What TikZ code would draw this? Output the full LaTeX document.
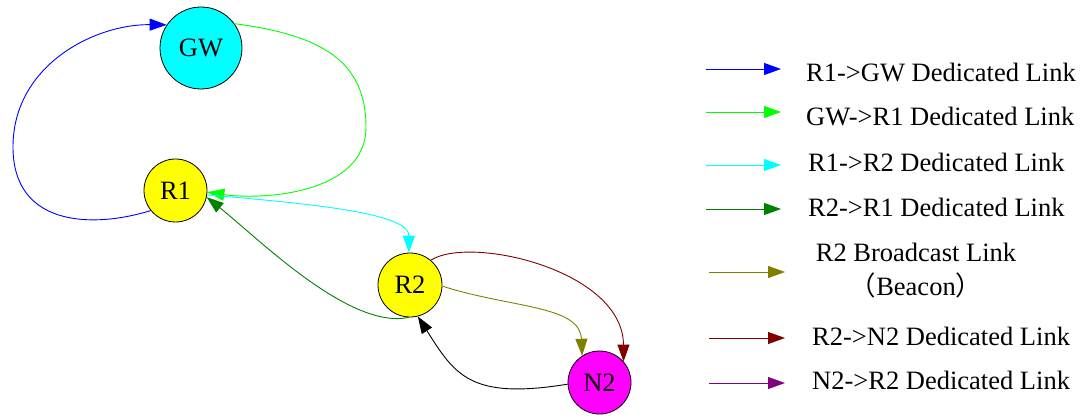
\documentclass[tikz,border=0pt]{standalone}
\usepackage{fontspec}
\setmainfont{Liberation Serif}
\newfontfamily\cjk{Noto Sans CJK SC}
\usetikzlibrary{arrows.meta}
\definecolor{bluec}{RGB}{0,0,255}
\definecolor{greenc}{RGB}{0,255,0}
\definecolor{cyanc}{RGB}{0,255,255}
\definecolor{yellowc}{RGB}{255,255,0}
\definecolor{magentac}{RGB}{255,0,255}
\definecolor{dkgreen}{RGB}{0,128,0}
\definecolor{olivec}{RGB}{128,128,0}
\definecolor{maroonc}{RGB}{128,0,0}
\definecolor{purplec}{RGB}{128,0,128}
\begin{document}
\begin{tikzpicture}[x=1pt,y=-1pt,
  every node/.style={font=\fontsize{26.5}{30}\selectfont},
  station/.style={circle,draw=black,line width=0.8pt,inner sep=0pt},
  link/.style={line width=0.9pt,-{Triangle[length=17pt,width=12pt]}},
  legtext/.style={anchor=base west,inner sep=0pt},
  legctext/.style={anchor=base,inner sep=0pt}]
\useasboundingbox (0,0) rectangle (1084,417);
% stations
\node[station,fill=cyanc,minimum size=82pt] (GW) at (201,48) {GW};
\node[station,fill=yellowc,minimum size=63pt] (R1) at (175.5,190.5) {R1};
\node[station,fill=yellowc,minimum size=64pt] (R2) at (410,285) {R2};
\node[station,fill=magentac,minimum size=63pt] (N2) at (599.5,382.5) {N2};
% links
\coordinate (bl) at (13,147);
\draw[link,bluec] (R1.219) .. controls (95,228) and (13,228) .. (bl)
   .. controls (13,65) and (95,24) .. (GW.146);
\coordinate (gr) at (366,127);
\draw[link,greenc] (GW.36) .. controls (320,35) and (366,60) .. (gr)
   .. controls (366,195) and (260,200) .. (R1.-3);
\draw[link,cyanc] (R1.-8) .. controls (330,205) and (409,215) .. (R2.92);
\draw[link,dkgreen] (R2.268) .. controls (350,330) and (260,240) .. (R1.-12);
\draw[link,olivec] (R2.-2) .. controls (510,308) and (580,305) .. (N2.123);
\draw[link,maroonc] (R2.50) .. controls (470,235) and (623,270) .. (N2.41);
\draw[link,black] (N2.183) .. controls (470,400) and (455,375) .. (R2.-76);
% legend
\coordinate (l1a) at (706,69);  \coordinate (l1b) at (781,69);
\coordinate (l2a) at (706,112); \coordinate (l2b) at (781,112);
\coordinate (l3a) at (706,165); \coordinate (l3b) at (781,165);
\coordinate (l4a) at (706,209); \coordinate (l4b) at (781,209);
\coordinate (l5a) at (709,272); \coordinate (l5b) at (785,272);
\coordinate (l6a) at (709,338); \coordinate (l6b) at (785,338);
\coordinate (l7a) at (709,383); \coordinate (l7b) at (785,383);
\draw[link,bluec] (l1a) -- (l1b);
\draw[link,greenc] (l2a) -- (l2b);
\draw[link,cyanc] (l3a) -- (l3b);
\draw[link,dkgreen] (l4a) -- (l4b);
\draw[link,olivec] (l5a) -- (l5b);
\draw[link,maroonc] (l6a) -- (l6b);
\draw[link,purplec] (l7a) -- (l7b);
\node[legtext] (t1) at (806,81.5) {R1->GW Dedicated Link};
\node[legtext] (t2) at (806,125) {GW->R1 Dedicated Link};
\node[legtext] (t3) at (808,171.5) {R1->R2 Dedicated Link};
\node[legtext] (t4) at (808,216) {R2->R1 Dedicated Link};
\node[legctext] (t5) at (916,261.5) {R2 Broadcast Link};
\node[legctext] (t6) at (916,295) {{\cjk （}Beacon{\cjk ）}};
\node[legtext] (t7) at (812,345) {R2->N2 Dedicated Link};
\node[legtext] (t8) at (812,389) {N2->R2 Dedicated Link};
\end{tikzpicture}
\end{document}
